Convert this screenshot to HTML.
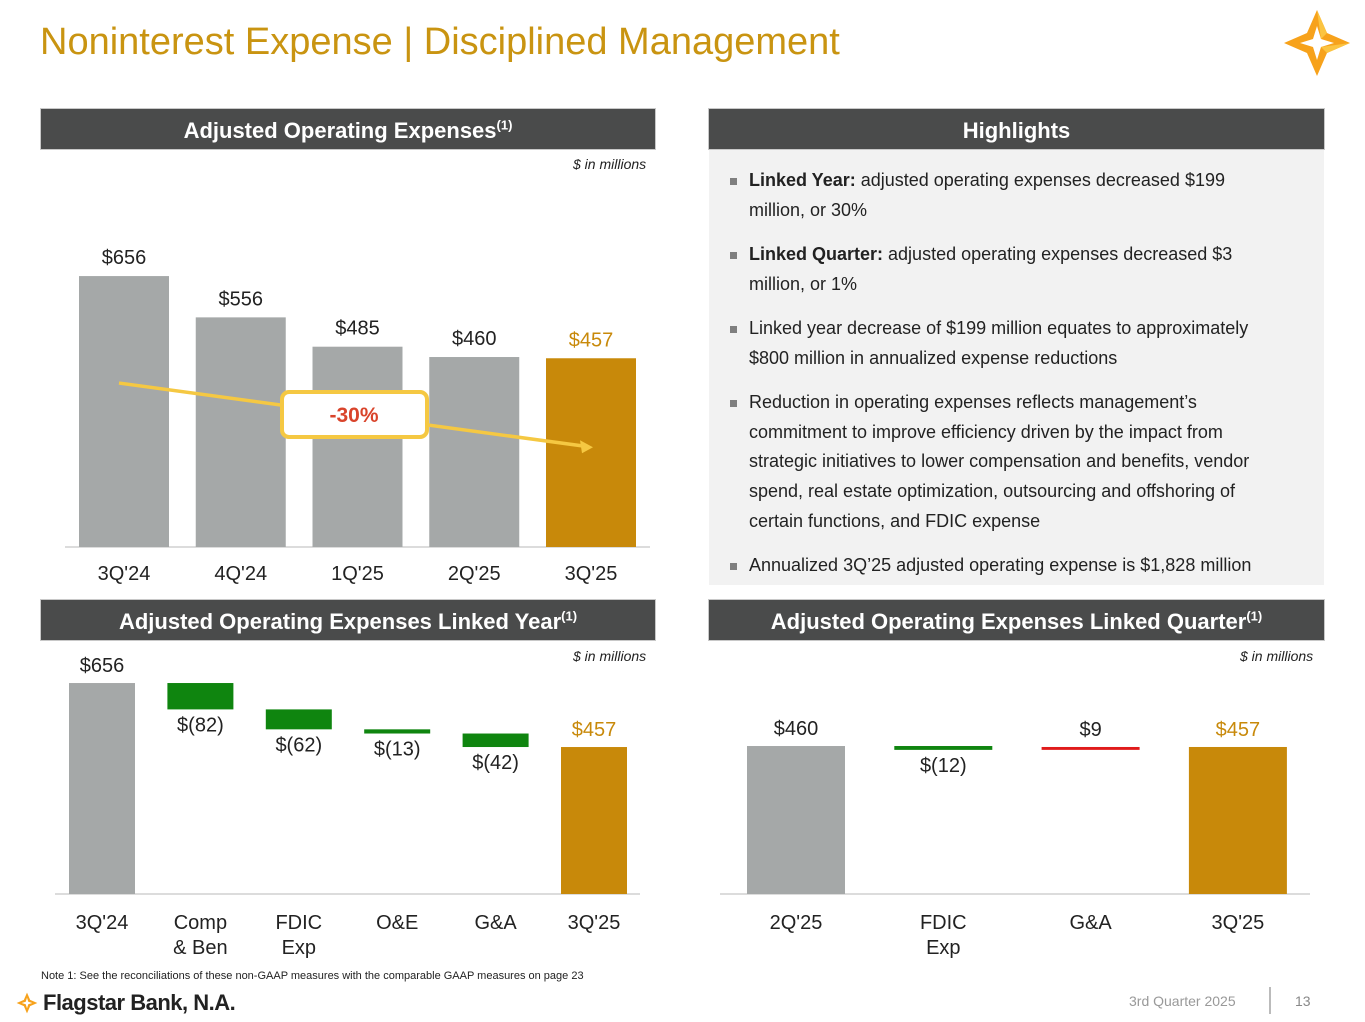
<!DOCTYPE html>
<html><head><meta charset="utf-8"><style>
body{margin:0;width:1365px;height:1022px;position:relative;background:#fff;font-family:"Liberation Sans",Arial,sans-serif;overflow:hidden}
.abs{position:absolute}
.hdr{position:absolute;height:40px;background:#4a4b4b;border:1px solid #c8c8c8;color:#fff;font-weight:bold;font-size:22px;text-align:center;line-height:43px}
.hdr sup{font-size:13px;line-height:0}
.unit{position:absolute;font-size:14px;font-style:italic;color:#222}
.hl p{position:absolute;left:749px;margin:0;font-size:18px;line-height:29.7px;color:#222;width:530px}
.hl p:before{content:"";position:absolute;left:-19px;top:12px;width:7px;height:7px;background:#7f7f7f}
</style></head><body>
<div class="abs" style="left:40px;top:21px;font-size:38px;color:#c99411">Noninterest Expense | Disciplined Management</div>
<svg class="abs" style="left:1282px;top:8px" width="70" height="70" viewBox="0 0 70 70">
<path d="M35 2 L45 25 L68 35 L45 45 L35 68 L25 45 L2 35 L25 25Z" fill="#f7a21b"/>
<path d="M35 18 L39 31 L52 35 L39 39 L35 52 L31 39 L18 35 L31 31Z" fill="#fff"/>
<path d="M35 2 L45 25 L39 31Z M68 35 L45 45 L39 39Z" fill="#fbc441"/></svg>

<div class="hdr" style="left:40px;top:108px;width:614px">Adjusted Operating Expenses<sup>(1)</sup></div>
<div class="hdr" style="left:708px;top:108px;width:615px">Highlights</div>
<div class="hdr" style="left:40px;top:599px;width:614px">Adjusted Operating Expenses Linked Year<sup>(1)</sup></div>
<div class="hdr" style="left:708px;top:599px;width:615px">Adjusted Operating Expenses Linked Quarter<sup>(1)</sup></div>
<div class="unit" style="left:573px;top:156px">$ in millions</div>
<div class="unit" style="left:573px;top:648px">$ in millions</div>
<div class="unit" style="left:1240px;top:648px">$ in millions</div>

<div class="abs hl" style="left:709px;top:150px;width:615px;height:435px;background:#f2f2f2"></div>
<div class="hl">
<p style="top:166px"><b>Linked Year:</b> adjusted operating expenses decreased $199 million, or 30%</p>
<p style="top:240px"><b>Linked Quarter:</b> adjusted operating expenses decreased $3 million, or 1%</p>
<p style="top:314px">Linked year decrease of $199 million equates to approximately $800 million in annualized expense reductions</p>
<p style="top:388px">Reduction in operating expenses reflects management’s commitment to improve efficiency driven by the impact from strategic initiatives to lower compensation and benefits, vendor spend, real estate optimization, outsourcing and offshoring of certain functions, and FDIC expense</p>
<p style="top:551px">Annualized 3Q’25 adjusted operating expense is $1,828 million</p>
</div>

<svg class="abs" id="c1" style="left:0;top:0" width="1365" height="1022"></svg>

<div class="abs" style="left:41px;top:970px;font-size:11px;color:#222">Note 1: See the reconciliations of these non-GAAP measures with the comparable GAAP measures on page 23</div>
<svg class="abs" style="left:16px;top:992px" width="22" height="22" viewBox="0 0 70 70"><path d="M35 2 L45 25 L68 35 L45 45 L35 68 L25 45 L2 35 L25 25Z" fill="#f7a21b"/><path d="M35 18 L39 31 L52 35 L39 39 L35 52 L31 39 L18 35 L31 31Z" fill="#fff"/></svg>
<div class="abs" style="left:43px;top:990px;font-size:22px;color:#222;font-weight:bold;letter-spacing:-0.5px">Flagstar Bank, N.A.</div>
<div class="abs" style="left:1129px;top:993px;font-size:14px;color:#999">3rd Quarter 2025</div>
<div class="abs" style="left:1269px;top:987px;width:2px;height:27px;background:#bbb"></div>
<div class="abs" style="left:1295px;top:993px;font-size:14px;color:#888">13</div>

<script>
const topCats=["3Q'24","4Q'24","1Q'25","2Q'25","3Q'25"];
const topVals=[656,556,485,460,457];
const lyCats=["3Q'24","Comp|& Ben","FDIC|Exp","O&E","G&A","3Q'25"];
const lyVals=[656,-82,-62,-13,-42,457];
const lyLabels=["$656","$(82)","$(62)","$(13)","$(42)","$457"];
const lqCats=["2Q'25","FDIC|Exp","G&A","3Q'25"];
const lqVals=[460,-12,9,457];
const lqLabels=["$460","$(12)","$9","$457"];
const changeLabel="-30%";

const svg=document.getElementById('c1');const NS='http://www.w3.org/2000/svg';
function el(t,a,name){const e=document.createElementNS(NS,t);for(const k in a)e.setAttribute(k,a[k]);


svg.appendChild(e);return e;}
function txt(x,y,s,fill,size,name,weight){const t=el('text',{x:x,y:y,'text-anchor':'middle',fill:fill,'font-size':size,'font-family':'Liberation Sans, Arial, sans-serif','font-weight':weight||'normal'},name);t.textContent=s;return t;}
function cat(x,y,s,name){s.split('|').forEach((p,i)=>txt(x,y+i*25,p,'#222',20,name));}
const GRAY='#a5a8a8',GOLD='#c8890a',GREEN='#0f850f',RED='#e01b1b';

(function(){const base=547,k=0.413,x0=79,step=116.75,w=90;
el('line',{x1:65,y1:base,x2:650,y2:base,stroke:'#d0d0d0','stroke-width':1.5},'x-axis-top');
const ys=v=>base-v*k;
topVals.forEach((v,i)=>{const last=i===topVals.length-1;const x=x0+i*step;
el('rect',{x:x,y:ys(v),width:w,height:v*k,fill:last?GOLD:GRAY},'bar-'+topCats[i]);
txt(x+w/2,ys(v)-12,'$'+v,last?GOLD:'#222',20,'value-label');
cat(x+w/2,base+33,topCats[i],'category-label');});
const a={x:x0+w/2-5,y:ys(topVals[0])+107},b={x:x0+4*step+w/2+2,y:ys(topVals[4])+89};
el('line',{x1:a.x,y1:a.y,x2:b.x-8,y2:b.y-1,stroke:'#f5c842','stroke-width':3.5},'trend-arrow');
el('polygon',{points:`${b.x},${b.y} ${b.x-13},${b.y-7} ${b.x-11},${b.y+6}`,fill:'#f5c842'},'trend-arrowhead');
el('rect',{x:282,y:392,width:145,height:45,rx:7,fill:'#fff',stroke:'#f5c842','stroke-width':4},'change-box');
txt(354,422,changeLabel,'#d9442b',21,'change-label','bold');})();

function waterfall(cats,vals,labels,x0,step,w,base,k,axis,pre){
el('line',{x1:axis[0],y1:base,x2:axis[1],y2:base,stroke:'#d0d0d0','stroke-width':1.5},'x-axis-'+pre);
let run=0;
vals.forEach((v,i)=>{const x=x0+i*step;const first=i===0,last=i===vals.length-1;let y,h,fill,ly,lc='#222';
if(first||last){y=base-v*k;h=v*k;fill=last?GOLD:GRAY;ly=y-11;if(last)lc=GOLD;run=v;}
else{const top=Math.max(run,run+v),bot=Math.min(run,run+v);y=base-top*k;h=Math.max((top-bot)*k,2.5);fill=v<0?GREEN:RED;
ly=v<0?y+h+22:y-11;run+=v;}
el('rect',{x:x,y:y,width:w,height:h,fill:fill},'bar-'+cats[i].replace('|',' '));
txt(x+w/2,ly,labels[i],lc,20,'value-label');
cat(x+w/2,base+35,cats[i],'category-label');});}
waterfall(lyCats,lyVals,lyLabels,69,98.4,66,894,0.3216,[55,640],'ly');
waterfall(lqCats,lqVals,lqLabels,747,147.3,98,894,0.3217,[720,1310],'lq');
</script>
</body></html>
